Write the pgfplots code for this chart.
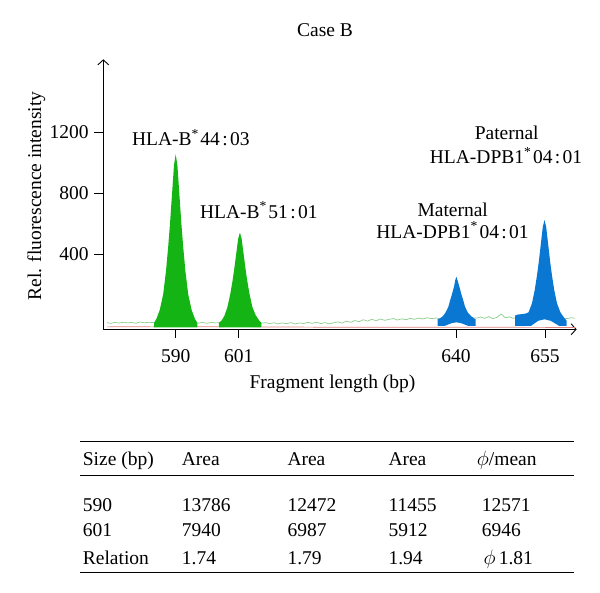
\documentclass[border=0pt]{standalone}
\usepackage{pgfplots}
\pgfplotsset{compat=1.18}
\usetikzlibrary{arrows.meta}
\usepackage{fontspec}
\setmainfont{Liberation Serif}

\definecolor{peakgreen}{RGB}{20,180,20}
\definecolor{peakblue}{RGB}{10,120,210}
\definecolor{noisegreen}{RGB}{140,205,140}
\definecolor{noisered}{RGB}{225,130,130}

\newcommand{\hla}[3]{HLA-#1\textsuperscript{*}\hspace{0.08em}#2\hspace{0.12em}:\hspace{0.12em}#3}

\begin{document}
\fontsize{19.5}{23}\selectfont
\begin{tikzpicture}
\useasboundingbox (0pt,0pt) rectangle (600pt,-593pt);

\node[anchor=base] at (325pt,-36.7pt) {Case B};

\begin{axis}[
    at={(103.3pt,-329.3pt)}, anchor=south west,
    scale only axis,
    width=473.4pt, height=270pt,
    xmin=577.26, xmax=660.57,
    ymin=-96, ymax=1683,
    axis x line=bottom, axis y line=left,
    axis line style={line width=0.9pt, -{Straight Barb[length=5pt,width=11pt,line width=0.9pt]}},
    xtick={590,601.09,639.33,655},
    xticklabels={590,601,640,655},
    ytick={400,800,1200},
    tick align=outside,
    major tick length=9pt,
    tick style={line width=0.9pt, black},
    /pgf/number format/assume math mode=true,
    /pgf/number format/1000 sep={},
    tick label style={font=\fontsize{19.5}{23}\selectfont},
    xticklabel style={anchor=base, yshift=-24pt},
    yticklabel style={anchor=east, xshift=1pt},
]
% baseline traces
\addplot[noisered, line width=0.7pt] coordinates {
    (577.9,-80) (582,-79) (586,-80) (590,-66) (594,-79) (598,-80) (601.1,-70)
    (604,-80) (610,-81) (620,-83) (630,-82) (640,-82) (650,-83) (660.3,-84)
};
\addplot[noisegreen, line width=0.7pt] coordinates {
    (577.9,-52) (578.6,-57) (579.3,-50) (580,-55) (580.8,-49) (581.5,-54)
    (582.2,-51) (583,-56) (583.7,-48) (584.5,-53) (585.3,-50) (586.2,-52)
    (590,-48) (594,-55) (594.7,-51) (595.5,-56) (596.3,-50) (597,-54)
    (597.8,-52) (601,-50) (605.1,-56) (605.8,-52) (606.5,-58) (607.3,-53)
    (608,-60) (608.8,-54) (609.5,-59) (610.3,-52) (611,-61) (611.8,-54)
    (612.5,-58) (613.3,-50) (614,-57) (614.8,-49) (615.5,-58) (616.3,-52)
    (617,-60) (617.8,-53) (618.5,-47) (619.3,-55) (620,-42) (620.8,-50)
    (621.5,-38) (622.3,-46) (623,-33) (623.8,-42) (624.5,-30) (625.3,-40)
    (626,-28) (626.8,-37) (627.5,-31) (628.3,-25) (629,-35) (629.8,-27)
    (630.5,-33) (631.3,-24) (632,-30) (632.8,-22) (633.5,-28) (634.3,-20)
    (635,-26) (635.8,-22) (636.5,-25) (640,-20) (643,-22) (643.7,-15)
    (644.4,-24) (645.1,-12) (645.8,-26) (646.5,-18) (647.3,5) (648,-20)
    (648.7,-14) (649.4,-24) (650,-18) (655,-15) (658.9,-25) (659.6,-20)
    (660.3,-23)
};
% 590 peak
\addplot[fill=peakgreen, draw=none] coordinates {
    (586.2,-83) (586.2,-53) (586.6,-28) (587.2,32) (587.8,135) (588.3,290)
    (588.7,457) (589.0,601) (589.4,820) (589.7,985) (590.0,1057) (590.3,985)
    (590.6,820) (591.0,601) (591.3,457) (591.7,290) (592.2,135) (592.8,32)
    (593.4,-28) (593.8,-53) (593.8,-83)
} -- cycle;
% 601 peak
\addplot[fill=peakgreen, draw=none] coordinates {
    (597.6,-83) (597.6,-53) (598.1,-38) (598.6,-5) (599.1,50) (599.6,135)
    (600.0,222) (600.3,300) (600.7,415) (601.0,502) (601.3,541) (601.6,502)
    (601.9,415) (602.3,300) (602.6,222) (603.0,135) (603.5,50) (604.1,-5)
    (604.7,-38) (605.1,-53) (605.1,-83)
} -- cycle;
% 640 peak
\addplot[fill=peakblue, draw=none] coordinates {
    (636.1,-74) (636.1,-30) (636.5,-24) (637.0,-10) (637.5,15) (638.0,54)
    (638.3,96) (638.6,132) (639.0,188) (639.2,228) (639.4,250) (639.6,228)
    (639.9,188) (640.3,132) (640.6,96) (640.9,54) (641.4,15) (642.0,-10)
    (642.5,-24) (642.8,-30) (642.8,-74) (641.5,-74) (640.2,-55) (639.4,-50)
    (638.6,-55) (637.3,-74)
} -- cycle;
% 655 peak
\addplot[fill=peakblue, draw=none] coordinates {
    (649.75,-74) (649.75,-5) (650.3,2) (651.0,4) (651.6,8) (652.1,16)
    (652.7,75) (653.2,166) (653.6,264) (653.9,349) (654.3,480) (654.6,578)
    (654.9,624) (655.2,578) (655.5,480) (655.9,349) (656.2,264) (656.6,166)
    (657.1,75) (657.7,16) (658.3,-17) (658.8,-40) (658.8,-74) (657.5,-74)
    (656.0,-40) (654.9,-30) (653.8,-40) (652.5,-74)
} -- cycle;
\draw[line width=0.9pt] (axis cs:577.26,-96) -- ++(-9pt,0pt);
\end{axis}

% axis titles
\node[anchor=base] at (332.5pt,-389pt) {Fragment length (bp)};
\node[rotate=90, anchor=base] at (41pt,-196pt) {Rel. fluorescence intensity};

% peak annotations
\node[anchor=base] at (190.8pt,-146pt) {\hla{B}{44}{03}};
\node[anchor=base] at (258.8pt,-218.3pt) {\hla{B}{51}{01}};
\node[anchor=base] at (452.7pt,-216.7pt) {Maternal};
\node[anchor=base] at (452.5pt,-238.3pt) {\hla{DPB1}{04}{01}};
\node[anchor=base] at (506.7pt,-140pt) {Paternal};
\node[anchor=base] at (506pt,-164pt) {\hla{DPB1}{04}{01}};

% table
\draw[line width=1.3pt] (80pt,-441.7pt) -- (574.3pt,-441.7pt);
\draw[line width=0.9pt] (80pt,-475pt) -- (574.3pt,-475pt);
\draw[line width=1.3pt] (80pt,-572.7pt) -- (574.3pt,-572.7pt);
\begin{scope}[every node/.style={anchor=base west, inner sep=0pt}]
\node at (82.7pt,-466pt) {Size (bp)};
\node at (181.7pt,-466pt) {Area};
\node at (287.3pt,-466pt) {Area};
\node at (388.3pt,-466pt) {Area};
\node at (476.7pt,-466pt) {$\phi$/mean};
\node at (82.7pt,-511.7pt) {590};
\node at (181.7pt,-511.7pt) {13786};
\node at (287.3pt,-511.7pt) {12472};
\node at (388.3pt,-511.7pt) {11455};
\node at (481.7pt,-511.7pt) {12571};
\node at (82.7pt,-536pt) {601};
\node at (181.7pt,-536pt) {7940};
\node at (287.3pt,-536pt) {6987};
\node at (388.3pt,-536pt) {5912};
\node at (481.7pt,-536pt) {6946};
\node at (82.7pt,-564pt) {Relation};
\node at (181.7pt,-564pt) {1.74};
\node at (287.3pt,-564pt) {1.79};
\node at (388.3pt,-564pt) {1.94};
\node at (483.3pt,-564pt) {$\phi$\,1.81};
\end{scope}
\end{tikzpicture}
\end{document}
